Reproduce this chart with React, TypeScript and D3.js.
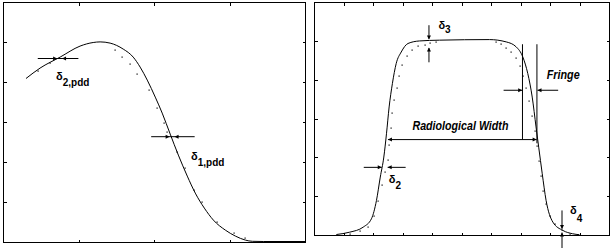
import React from "react";
import * as d3 from "d3";

// ---- Left panel (depth dose) ----
const pddCalcX = [1.49, 2.42, 3.75, 5.07, 5.94, 6.4, 7.06, 7.93, 8.59, 9.05, 9.52, 10.05, 10.51, 11.04, 11.58, 12.17, 12.7, 13.3, 13.9, 14.69, 15.36, 16.02, 16.48, 17.2, 20];
const pddCalcY = [82.0, 87.2, 92.7, 98.2, 100.0, 100.3, 99.7, 96.7, 92.7, 87.7, 81.2, 72.7, 64.7, 54.2, 43.7, 33.2, 24.7, 17.2, 11.2, 6.2, 3.2, 1.2, 0.6, 0.5, 0.5];
const pddMeasX = [2.3, 3.1, 7.4, 7.84, 8.39, 8.84, 9.61, 10.16, 10.6, 10.83, 11.49, 12.04, 12.59, 13.15, 14.14, 15.24, 16.02];
const pddMeasY = [86.0, 89.6, 96.2, 92.5, 89.5, 84.2, 76.2, 67.0, 59.5, 55.4, 45.4, 37.1, 26.2, 20.4, 10.4, 4.6, 2.1];

// ---- Right panel (profile) ----
const profCalcX = [-4.26, -3.81, -3.35, -3.07, -2.9, -2.77, -2.65, -2.56, -2.47, -2.36, -2.23, -2.06, -1.83, -1.44, -0.76, 0.93, 1.5, 1.84, 2.06, 2.23, 2.38, 2.51, 2.6, 2.72, 2.85, 3.08, 3.42, 3.75, 3.98];
const profCalcY = [0.5, 1.7, 4.3, 8.6, 18.0, 30.1, 40.4, 52.4, 66.2, 78.2, 88.6, 94.5, 98.9, 100.2, 100.6, 100.9, 99.7, 97.1, 92.0, 83.4, 71.3, 55.9, 45.5, 31.8, 18.1, 6.9, 2.6, 0.9, 0.4];
const profMeasX = [-3.8, -3.46, -3.19, -2.97, -2.84, -2.7, -2.6, -2.51, -2.46, -2.41, -2.36, -2.29, -2.22, -2.12, -2.02, -1.88, -1.71, -1.5, -1.27, -1.07, -0.87, 1.16, 1.33, 1.5, 1.67, 1.84, 1.97, 2.07, 2.17, 2.27, 2.37, 2.47, 2.54, 2.61, 2.67, 2.74, 2.84, 2.98, 3.15, 3.39, 3.66, 3.93];
const profMeasY = [1.0, 2.1, 4.6, 10.3, 18.0, 25.8, 32.5, 38.7, 46.4, 55.2, 62.9, 69.6, 75.8, 82.0, 87.7, 92.3, 95.4, 97.5, 98.3, 99.0, 99.6, 99.4, 98.4, 96.8, 94.6, 91.3, 87.2, 82.0, 75.8, 69.1, 61.4, 53.6, 45.9, 38.2, 30.4, 22.7, 16.0, 9.8, 5.7, 2.6, 1.0, 0.5];

const yTickVals = [20, 40, 60, 80, 100];
const leftXTicks = [5, 10, 15];
const rightXTicks = [-4, -3, -2, -1, 0, 1, 2, 3, 4];

const FONT = "'Liberation Sans', Arial, sans-serif";

function Arrowhead({ x, y, dir }: { x: number; y: number; dir: "l" | "r" | "u" | "d" }) {
  const L = 4, W = 2;
  let pts = "";
  if (dir === "r") pts = `${x},${y} ${x - L},${y - W} ${x - L},${y + W}`;
  if (dir === "l") pts = `${x},${y} ${x + L},${y - W} ${x + L},${y + W}`;
  if (dir === "d") pts = `${x},${y} ${x - W},${y - L} ${x + W},${y - L}`;
  if (dir === "u") pts = `${x},${y} ${x - W},${y + L} ${x + W},${y + L}`;
  return <polygon points={pts} fill="#000" />;
}

function Frame({ x, y, xt, yt }: any) {
  const [x0, x1] = x.range();
  const [y0, y1] = y.range();
  const T = 3;
  return (
    <g stroke="#000" strokeWidth={1} shapeRendering="crispEdges" fill="none">
      <rect x={x0} y={y1} width={x1 - x0} height={y0 - y1} />
      {yt.map((v: number) => (
        <g key={"y" + v}>
          <line x1={x0} x2={x0 + T} y1={y(v)} y2={y(v)} />
          <line x1={x1} x2={x1 - T} y1={y(v)} y2={y(v)} />
        </g>
      ))}
      {xt.map((v: number) => (
        <g key={"x" + v}>
          <line x1={x(v)} x2={x(v)} y1={y0} y2={y0 - T} />
          <line x1={x(v)} x2={x(v)} y1={y1} y2={y1 + T} />
        </g>
      ))}
    </g>
  );
}

export default function App() {
  const xL = d3.scaleLinear().domain([0, 20]).range([3.5, 305.5]);
  const yL = d3.scaleLinear().domain([0, 120]).range([242.5, 2.5]);
  const xR = d3.scaleLinear().domain([-5, 5]).range([314.5, 609.5]);
  const yR = d3.scaleLinear().domain([0, 120]).range([235.5, 2.5]);

  const lineL = d3.line<number>().x((_, i) => xL(pddCalcX[i])).y((d) => yL(d)).curve(d3.curveMonotoneX);
  const lineR = d3.line<number>().x((_, i) => xR(profCalcX[i])).y((d) => yR(d)).curve(d3.curveMonotoneX);

  const textStyle = { fontFamily: FONT, fontWeight: 700 as const };

  return (
    <svg width={612} height={248} style={{ position: "absolute", left: 0, top: 0, background: "#fff" }}>
      <rect x={0} y={0} width={612} height={248} fill="#fff" />
      <Frame x={xL} y={yL} xt={leftXTicks} yt={yTickVals} />
      <Frame x={xR} y={yR} xt={rightXTicks} yt={yTickVals} />

      {/* Left curves */}
      <path d={lineL(pddCalcY) || ""} fill="none" stroke="#000" strokeWidth={1} />
      {pddMeasX.map((v, i) => (
        <rect key={"pm" + i} x={Math.round(xL(v)) - 0.5} y={Math.round(yL(pddMeasY[i])) - 0.5} width={1.2} height={1.2} fill="#000" />
      ))}

      {/* Right curves */}
      <path d={lineR(profCalcY) || ""} fill="none" stroke="#000" strokeWidth={1} />
      {profMeasX.map((v, i) => (
        <rect key={"rm" + i} x={Math.round(xR(v)) - 0.5} y={Math.round(yR(profMeasY[i])) - 0.5} width={1.2} height={1.2} fill="#000" />
      ))}

      {/* Left annotations */}
      <g stroke="#000" strokeWidth={1}>
        <line x1={xL(2.27)} x2={xL(4.96)} y1={yL(92)} y2={yL(92)} />
        <line x1={xL(9.78)} x2={xL(12.66)} y1={yL(52.9)} y2={yL(52.9)} />
      </g>
      <Arrowhead x={xL(3.55)} y={yL(92)} dir="r" />
      <Arrowhead x={xL(3.88)} y={yL(92)} dir="l" />
      <Arrowhead x={xL(11.0)} y={yL(52.9)} dir="r" />
      <Arrowhead x={xL(11.33)} y={yL(52.9)} dir="l" />
      <text x={xL(3.48)} y={yL(81.2)} fontSize={11} {...textStyle}>
        δ<tspan fontSize={10} dy={6}>2,pdd</tspan>
      </text>
      <text x={xL(12.42)} y={yL(41.5)} fontSize={11} {...textStyle}>
        δ<tspan fontSize={10} dy={6}>1,pdd</tspan>
      </text>

      {/* Right annotations */}
      <g stroke="#000" strokeWidth={1}>
        <line x1={xR(-1.12)} x2={xR(-1.12)} y1={yR(108.3)} y2={yR(101.3)} />
        <line x1={xR(-1.12)} x2={xR(-1.12)} y1={yR(89.2)} y2={yR(96.5)} />
        <line x1={xR(3.39)} x2={xR(3.39)} y1={yR(12.9)} y2={yR(3.5)} />
        <line x1={xR(3.39)} x2={xR(3.39)} y1={yR(-6.8)} y2={yR(1.5)} />
        <line x1={xR(-3.33)} x2={xR(-2.72)} y1={yR(35.1)} y2={yR(35.1)} />
        <line x1={xR(-1.91)} x2={xR(-2.52)} y1={yR(35.1)} y2={yR(35.1)} />
        <line x1={xR(2.05)} x2={xR(2.05)} y1={yR(98.5)} y2={yR(49.4)} />
        <line x1={xR(2.54)} x2={xR(2.54)} y1={yR(98.5)} y2={yR(47.5)} />
        <line x1={xR(1.41)} x2={xR(2.04)} y1={yR(74.8)} y2={yR(74.8)} />
        <line x1={xR(3.26)} x2={xR(2.56)} y1={yR(74.8)} y2={yR(74.8)} />
        <line x1={xR(-2.51)} x2={xR(2.53)} y1={yR(49.4)} y2={yR(49.4)} />
      </g>
      <Arrowhead x={xR(-1.12)} y={yR(101.0)} dir="d" />
      <Arrowhead x={xR(-1.12)} y={yR(96.8)} dir="u" />
      <Arrowhead x={xR(3.39)} y={yR(3.3)} dir="d" />
      <Arrowhead x={xR(3.39)} y={yR(1.6)} dir="u" />
      <Arrowhead x={xR(-2.72)} y={yR(35.1)} dir="r" />
      <Arrowhead x={xR(-2.52)} y={yR(35.1)} dir="l" />
      <Arrowhead x={xR(2.04)} y={yR(74.8)} dir="r" />
      <Arrowhead x={xR(2.56)} y={yR(74.8)} dir="l" />
      <Arrowhead x={xR(-2.51)} y={yR(49.4)} dir="l" />
      <Arrowhead x={xR(2.53)} y={yR(49.4)} dir="r" />

      <text x={xR(-0.8)} y={yR(106.2)} fontSize={11} {...textStyle}>
        δ<tspan fontSize={10} dy={4}>3</tspan>
      </text>
      <text x={xR(-2.48)} y={yR(26.8)} fontSize={11} {...textStyle}>
        δ<tspan fontSize={10} dy={6}>2</tspan>
      </text>
      <text x={xR(3.66)} y={yR(11.3)} fontSize={11} {...textStyle}>
        δ<tspan fontSize={10} dy={8}>4</tspan>
      </text>
      <text x={xR(2.87)} y={yR(80.5)} fontSize={12} fontStyle="italic" {...textStyle} textLength={33} lengthAdjust="spacingAndGlyphs">
        Fringe
      </text>
      <text x={xR(-1.68)} y={yR(54.2)} fontSize={12} fontStyle="italic" {...textStyle} textLength={96} lengthAdjust="spacingAndGlyphs">
        Radiological Width
      </text>
    </svg>
  );
}
